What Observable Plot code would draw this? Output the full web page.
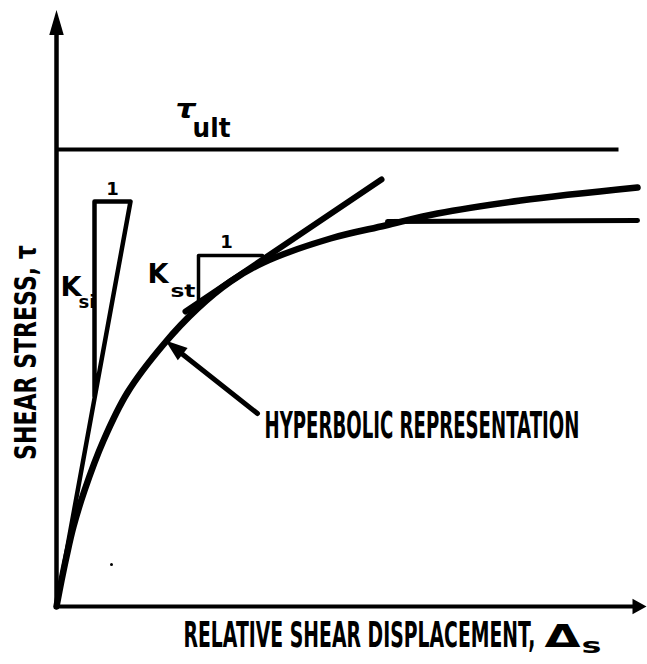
<!DOCTYPE html>
<html><head><meta charset="utf-8">
<script src="https://cdn.jsdelivr.net/npm/d3@7"></script>
<script src="https://cdn.jsdelivr.net/npm/@observablehq/plot@0.6"></script>
<style>body{margin:0;background:#fff}</style>
</head><body><div id="chart"></div>
<script>
// Hyperbolic representation (schematic units: displacement, stress)
const curveDisp   = [0, 5, 10, 17, 28, 47, 71, 107, 141, 174, 207, 274, 329, 381, 464, 581];
const curveStress = [0, 26, 50, 80, 116, 166, 214, 262, 298, 325, 344, 368, 381, 393, 406, 419];
// Measured curve levelling off
const plateauDisp   = [331, 581];
const plateauStress = [385, 386];
// Ultimate shear stress asymptote
const tauUltDisp   = [0, 562];
const tauUltStress = [457, 457];
// Initial tangent (K_si) triangle
const initTriDisp   = [0, 74, 38, 38];
const initTriStress = [0, 405, 405, 210];
// Tangent line and K_st triangle
const tangentDisp   = [129, 325];
const tangentStress = [295, 427];
const stTriDisp   = [142, 142, 206];
const stTriStress = [303, 351, 351];
// Axes
const axisYDisp = [0, 0],   axisYStress = [0, 576];
const axisXDisp = [0, 578], axisXStress = [0, 0];
// Annotation arrow
const noteDisp = [201, 120], noteStress = [193, 257];

const labels = [
  {text: "τ",   x: 129, y: 497, size: 26, anchor: "middle", style: "italic", len: 20},
  {text: "ult", x: 155, y: 478, size: 27, anchor: "middle", len: 38},
  {text: "1",   x: 56,  y: 417, size: 18, anchor: "middle"},
  {text: "K",   x: 4,   y: 319, size: 26, anchor: "start", len: 18},
  {text: "si",  x: 22,  y: 304, size: 18, anchor: "start", len: 17},
  {text: "1",   x: 170, y: 364, size: 18, anchor: "middle"},
  {text: "K",   x: 91,  y: 332, size: 26, anchor: "start", len: 21},
  {text: "st",  x: 114, y: 315, size: 18, anchor: "start", len: 25},
  {text: "HYPERBOLIC REPRESENTATION", x: 208, y: 181, size: 38, anchor: "start", len: 315},
  {text: "RELATIVE SHEAR DISPLACEMENT,", x: 127, y: -29, size: 36, anchor: "start", len: 352},
  {text: "Δ",   x: 506, y: -30, size: 32, anchor: "middle", len: 36},
  {text: "s",   x: 535, y: -40, size: 21, anchor: "middle", len: 20}
];
const yLabel = [{text: "SHEAR STRESS, τ", x: -30, y: 254}];
const specks = [{x: 55, y: 42}];

function pts(xs, ys) { return xs.map((x, i) => ({x, y: ys[i]})); }
function arrowSymbol(ratio) {
  return {draw(ctx, size) {
    const r = Math.sqrt(size / Math.PI);
    ctx.moveTo(0, -r); ctx.lineTo(ratio * r, r); ctx.lineTo(-ratio * r, r); ctx.closePath();
  }};
}
const heads = [
  {x: 0,     y: 584,   r: 12.5, rot: 0,     ratio: 0.58},
  {x: 583,   y: 0,     r: 7,    rot: 90,    ratio: 1.1},
  {x: 117.6, y: 259.2, r: 11,   rot: -51.6, ratio: 0.72}
];

const lineOpts = (w) => ({x: "x", y: "y", stroke: "black", strokeWidth: w, strokeLinecap: "round", strokeLinejoin: "round"});

const chart = Plot.plot({
  width: 647, height: 664,
  marginLeft: 56, marginRight: 1, marginTop: 6, marginBottom: 58,
  x: {domain: [0, 590], axis: null},
  y: {domain: [0, 600], axis: null},
  style: {background: "white", overflow: "visible"},
  marks: [
    Plot.line(pts(axisYDisp, axisYStress), lineOpts(4.5)),
    Plot.line(pts(axisXDisp, axisXStress), lineOpts(4)),
    Plot.line(pts(tauUltDisp, tauUltStress), {...lineOpts(4), strokeLinecap: "butt"}),
    Plot.line(pts(initTriDisp, initTriStress), lineOpts(4.5)),
    Plot.line(pts(stTriDisp, stTriStress), lineOpts(3.5)),
    Plot.line(pts(tangentDisp, tangentStress), lineOpts(6)),
    Plot.line(pts(plateauDisp, plateauStress), lineOpts(5)),
    Plot.line(pts(curveDisp, curveStress), {...lineOpts(6.5), curve: "catmull-rom"}),
    Plot.line(pts(noteDisp, noteStress), lineOpts(5)),
    ...heads.map(h => Plot.dot([h], {x: "x", y: "y", r: h.r, rotate: h.rot, symbol: arrowSymbol(h.ratio), fill: "black", stroke: "none"})),
    Plot.dot(specks, {x: "x", y: "y", r: 1.5, fill: "black"}),
    ...labels.map(l => Plot.text([l], {x: "x", y: "y", text: "text", fontSize: l.size, fontWeight: "bold",
      fontStyle: l.style || "normal", fontFamily: "DejaVu Sans", textAnchor: l.anchor, lineAnchor: "middle", fill: "black"})),
    Plot.text(yLabel, {x: "x", y: "y", text: "text", rotate: -90, fontSize: 30, fontWeight: "bold",
      fontFamily: "DejaVu Sans", textAnchor: "middle", lineAnchor: "middle", fill: "black"})
  ]
});

document.getElementById("chart").appendChild(chart);

// condense/stretch the heavy lettering to match the original typeface widths
const lens = new Map(labels.filter(l => l.len).map(l => [l.text, l.len]));
lens.set("SHEAR STRESS, τ", 215);
d3.select(chart).selectAll("text").each(function() {
  const t = this.textContent;
  if (!lens.has(t)) return;
  const w = this.getComputedTextLength();
  if (!w) return;
  const s = lens.get(t) / w;
  const tr = this.getAttribute("transform") || "";
  this.setAttribute("transform", tr + ` scale(${s.toFixed(4)},1)`);
});
</script>
</body></html>
